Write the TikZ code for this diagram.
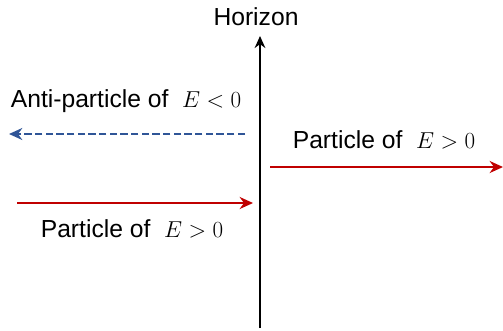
\documentclass[tikz,border=0pt]{standalone}
\usepackage{fontspec}
\setmainfont{Liberation Sans}
\usetikzlibrary{arrows.meta}
\definecolor{pred}{HTML}{C00000}
\definecolor{pblue}{HTML}{2F5597}
\begin{document}
\begin{tikzpicture}[x=0.75pt,y=-0.75pt,
  lbl/.style={font=\fontsize{18.5}{21}\selectfont, inner sep=0pt},
  redarrow/.style={draw=pred, line width=1.7pt, -{Stealth[length=10pt,width=9pt]}},
  bluearrow/.style={draw=pblue, line width=1.4pt, dash pattern=on 5.5pt off 2.5pt, -{Stealth[length=10pt,width=9pt]}},
  axisarrow/.style={draw=black, line width=1.6pt, -{Stealth[length=9pt,width=8pt]}}]
\useasboundingbox (0,0) rectangle (503,330);
\coordinate (ab) at (260,328);
\coordinate (at) at (260,36);
\draw[axisarrow] (ab) -- (at);
\node[lbl] (hz) at (256,17) {Horizon};
\coordinate (bs) at (245,134);
\coordinate (be) at (9,134);
\draw[bluearrow] (bs) -- (be);
\node[lbl] (anti) at (126,101) {Anti-particle of \ $E<0$};
\coordinate (rs) at (270,167);
\coordinate (re) at (503,167);
\draw[redarrow] (rs) -- (re);
\node[lbl] (pr) at (384,140) {Particle of \ $E>0$};
\coordinate (ls) at (17,203);
\coordinate (le) at (253,203);
\draw[redarrow] (ls) -- (le);
\node[lbl] (pl) at (132,229) {Particle of \ $E>0$};
\end{tikzpicture}
\end{document}
